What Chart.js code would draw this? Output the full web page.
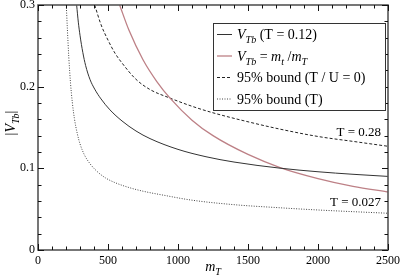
<!DOCTYPE html>
<html>
<head>
<meta charset="utf-8">
<script src="https://cdn.jsdelivr.net/npm/chart.js@4.4.1/dist/chart.umd.min.js"></script>
<style>
  html, body { margin: 0; padding: 0; background: #fff; }
  #wrap { width: 402px; height: 279px; }
</style>
</head>
<body>
<div id="wrap"><canvas id="chart"></canvas></div>
<script>
// values
const massT012 = [276, 288, 300, 320, 340, 371, 405, 450, 514, 600, 700, 800, 1000, 1200, 1400, 1729, 2000, 2250, 2500];
const vT012 = [0.300, 0.279, 0.263, 0.242, 0.226, 0.209, 0.197, 0.185, 0.1716, 0.158, 0.1457, 0.1364, 0.1232, 0.1142, 0.1077, 0.1002, 0.0958, 0.0927, 0.0901];

const massRatio = [583, 650, 750, 850, 943, 1100, 1250, 1500, 1729, 2000, 2250, 2500];
const vRatio = [0.300, 0.269, 0.233, 0.206, 0.186, 0.159, 0.140, 0.117, 0.101, 0.0875, 0.078, 0.071];

const massBoundTU = [405, 450, 500, 550, 600, 700, 800, 943, 1100, 1250, 1500, 1729, 2000, 2250, 2500];
const vBoundTU = [0.300, 0.276, 0.257, 0.241, 0.229, 0.209, 0.1965, 0.186, 0.176, 0.168, 0.157, 0.148, 0.139, 0.133, 0.127];

const massBoundT = [202, 210, 220, 232, 245, 260, 280, 300, 330, 370, 420, 480, 550, 650, 750, 900, 1100, 1400, 1700, 2000, 2500];
const vBoundT = [0.300, 0.270, 0.236, 0.205, 0.181, 0.161, 0.143, 0.130, 0.117, 0.106, 0.0965, 0.0885, 0.0825, 0.0765, 0.072, 0.067, 0.061, 0.0555, 0.052, 0.049, 0.045];

const xTicks = [0, 500, 1000, 1500, 2000, 2500];
const yTicks = [0, 0.1, 0.2, 0.3];

const SERIF = "'Liberation Serif', 'DejaVu Serif', serif";
const RED = '#bd8086';

function pts(xs, ys) {
    return xs.map(function(x, i) { return { x: x, y: ys[i] }; });
}

// draws a run of text pieces: r = regular, i = italic, s = italic subscript
function drawRich(ctx, parts, x, y, size) {
    parts.forEach(function(p) {
        const kind = p[1];
        const fs = kind === 's' ? size * 0.72 : size;
        ctx.font = (kind === 'r' ? '' : 'italic ') + fs + 'px ' + SERIF;
        const dy = kind === 's' ? size * 0.3 : 0;
        ctx.fillText(p[0], x, y + dy);
        x += ctx.measureText(p[0]).width;
    });
    return x;
}

function richWidth(ctx, parts, size) {
    let w = 0;
    parts.forEach(function(p) {
        const fs = p[1] === 's' ? size * 0.72 : size;
        ctx.font = (p[1] === 'r' ? '' : 'italic ') + fs + 'px ' + SERIF;
        w += ctx.measureText(p[0]).width;
    });
    return w;
}

const framePlugin = {
    id: 'frame',
    afterDraw: function(chart) {
        const ctx = chart.ctx;
        const a = chart.chartArea;
        const xs = chart.scales.x, ys = chart.scales.y;
        ctx.save();

        // frame
        ctx.strokeStyle = '#555';
        ctx.lineWidth = 1.6;
        ctx.strokeRect(a.left, a.top, a.right - a.left, a.bottom - a.top);

        // ticks on all four sides, pointing inward
        ctx.strokeStyle = '#111';
        ctx.lineWidth = 1;
        ctx.beginPath();
        for (let v = 0; v <= 2500; v += 100) {
            const px = Math.round(xs.getPixelForValue(v)) + 0.5;
            const len = v % 500 === 0 ? 6 : 3.5;
            ctx.moveTo(px, a.bottom); ctx.lineTo(px, a.bottom - len);
            ctx.moveTo(px, a.top); ctx.lineTo(px, a.top + len);
        }
        for (let k = 0; k <= 15; k++) {
            const py = Math.round(ys.getPixelForValue(k * 0.02)) + 0.5;
            const len = k % 5 === 0 ? 6 : 3.5;
            ctx.moveTo(a.left, py); ctx.lineTo(a.left + len, py);
            ctx.moveTo(a.right, py); ctx.lineTo(a.right - len, py);
        }
        ctx.stroke();

        // curve labels
        ctx.fillStyle = '#000';
        ctx.textAlign = 'right';
        ctx.textBaseline = 'middle';
        ctx.font = '13px ' + SERIF;
        ctx.fillText('T = 0.28', a.right - 7, 133);
        ctx.fillText('T = 0.027', a.right - 7, 203);

        // legend
        const lx = 213, ly = 23, lw = 172, lh = 87;
        ctx.fillStyle = '#fff';
        ctx.fillRect(lx, ly, lw, lh);
        ctx.strokeStyle = '#333';
        ctx.lineWidth = 1;
        ctx.strokeRect(lx + 0.5, ly + 0.5, lw, lh);
        const rows = [
            { color: '#333', dash: [], width: 1, parts: [['V', 'i'], ['Tb', 's'], [' (T = 0.12)', 'r']] },
            { color: RED, dash: [], width: 1.3, parts: [['V', 'i'], ['Tb', 's'], [' = ', 'r'], ['m', 'i'], ['t', 's'], [' /', 'r'], ['m', 'i'], ['T', 's']] },
            { color: '#222', dash: [3, 2], width: 1, parts: [['95% bound (T / U = 0)', 'r']] },
            { color: '#444', dash: [1, 1.5], width: 1, parts: [['95% bound (T)', 'r']] }
        ];
        ctx.textAlign = 'left';
        ctx.textBaseline = 'alphabetic';
        rows.forEach(function(r, i) {
            const cy = 34 + i * 21.5;
            ctx.strokeStyle = r.color;
            ctx.lineWidth = r.width;
            ctx.setLineDash(r.dash);
            ctx.beginPath();
            ctx.moveTo(217, cy + 0.5); ctx.lineTo(232, cy + 0.5);
            ctx.stroke();
            ctx.setLineDash([]);
            ctx.fillStyle = '#000';
            drawRich(ctx, r.parts, 237, cy + 5, 14);
        });

        // axis titles
        const xt = [['m', 'i'], ['T', 's']];
        const xw = richWidth(ctx, xt, 14);
        drawRich(ctx, xt, (a.left + a.right) / 2 - xw / 2, 271, 14);

        const yt = [['|', 'r'], ['V', 'i'], ['Tb', 's'], ['|', 'r']];
        const yw = richWidth(ctx, yt, 14);
        ctx.translate(15, 123);
        ctx.rotate(-Math.PI / 2);
        drawRich(ctx, yt, -yw / 2, 0, 14);

        ctx.restore();
    }
};

new Chart(document.getElementById('chart'), {
    type: 'line',
    data: {
        datasets: [
            {
                label: 'V_Tb (T = 0.12)',
                data: pts(massT012, vT012),
                borderColor: '#333',
                borderWidth: 1
            },
            {
                label: 'V_Tb = m_t / m_T',
                data: pts(massRatio, vRatio),
                borderColor: RED,
                borderWidth: 1.3
            },
            {
                label: '95% bound (T / U = 0)',
                data: pts(massBoundTU, vBoundTU),
                borderColor: '#222',
                borderWidth: 1,
                borderDash: [3, 2]
            },
            {
                label: '95% bound (T)',
                data: pts(massBoundT, vBoundT),
                borderColor: '#444',
                borderWidth: 1,
                borderDash: [1, 1.5]
            }
        ]
    },
    options: {
        responsive: true,
        maintainAspectRatio: false,
        animation: false,
        layout: { padding: { top: 5, right: 14, left: 0, bottom: 0 } },
        elements: {
            point: { radius: 0 },
            line: { cubicInterpolationMode: 'monotone', fill: false }
        },
        plugins: { legend: { display: false }, tooltip: { enabled: false } },
        scales: {
            x: {
                type: 'linear',
                min: 0,
                max: 2500,
                grid: { display: false, drawTicks: false },
                border: { display: false },
                afterBuildTicks: function(scale) {
                    scale.ticks = xTicks.map(function(v) { return { value: v }; });
                },
                afterFit: function(scale) {
                    scale.height = 29;
                    scale.paddingLeft = 0;
                    scale.paddingRight = 0;
                },
                ticks: {
                    color: '#000',
                    padding: 4,
                    maxRotation: 0,
                    font: { family: SERIF, size: 12 },
                    callback: function(v) { return String(v); }
                }
            },
            y: {
                min: 0,
                max: 0.3,
                grid: { display: false, drawTicks: false },
                border: { display: false },
                afterBuildTicks: function(scale) {
                    scale.ticks = yTicks.map(function(v) { return { value: v }; });
                },
                afterFit: function(scale) {
                    scale.width = 38;
                    scale.paddingTop = 0;
                    scale.paddingBottom = 0;
                },
                ticks: {
                    color: '#000',
                    padding: 3,
                    font: { family: SERIF, size: 12 },
                    callback: function(v) { return String(Math.round(v * 10) / 10); }
                }
            }
        }
    },
    plugins: [framePlugin]
});
</script>
</body>
</html>
